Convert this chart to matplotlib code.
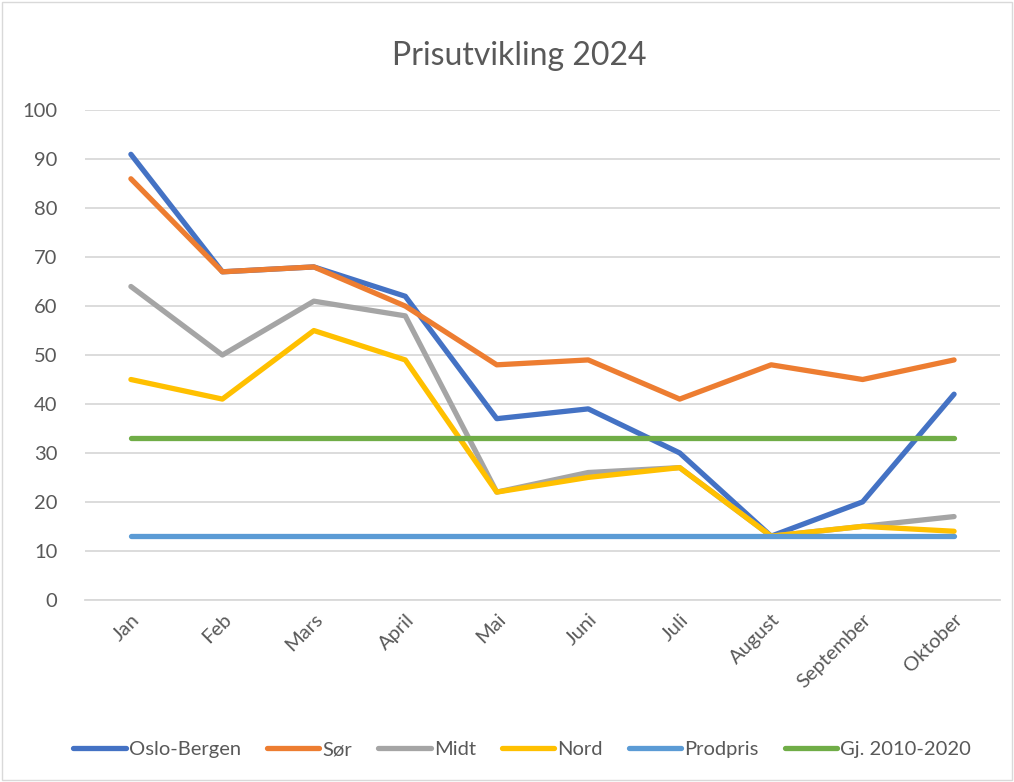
import matplotlib.pyplot as plt
from matplotlib.patches import Rectangle

plt.rcParams['font.family'] = ['Lato', 'DejaVu Sans']

months = ["Jan", "Feb", "Mars", "April", "Mai", "Juni", "Juli",
          "August", "September", "Oktober"]
oslo_bergen = [91, 67, 68, 62, 37, 39, 30, 13, 20, 42]
sor = [86, 67, 68, 60, 48, 49, 41, 48, 45, 49]
midt = [64, 50, 61, 58, 22, 26, 27, 13, 15, 17]
nord = [45, 41, 55, 49, 22, 25, 27, 13, 15, 14]
prodpris = [13] * 10
gj_2010_2020 = [33] * 10

series = [
    ("Oslo-Bergen", oslo_bergen, "#4472C4"),
    ("Sør", sor, "#ED7D31"),
    ("Midt", midt, "#A5A5A5"),
    ("Nord", nord, "#FFC000"),
    ("Prodpris", prodpris, "#5B9BD5"),
    ("Gj. 2010-2020", gj_2010_2020, "#70AD47"),
]

fig = plt.figure(figsize=(10.14, 7.82), dpi=100)
ax = fig.add_axes([0.084, 0.233, 0.902, 0.626])

x = range(len(months))
for name, vals, col in series:
    ax.plot(x, vals, color=col, lw=3.8, label=name, solid_capstyle='round')

ax.set_xlim(-0.5, len(months) - 0.5)
ax.set_ylim(0, 100)
ax.set_yticks(range(0, 101, 10))
ax.set_xticks(list(x))
ax.set_xticklabels(months, rotation=45, ha='right', rotation_mode='anchor')
ax.grid(axis='y', color='#D9D9D9', lw=1.3)
ax.set_axisbelow(True)
for s in ['top', 'right', 'left']:
    ax.spines[s].set_visible(False)
ax.spines['bottom'].set_color('#D9D9D9')
ax.spines['bottom'].set_linewidth(1.3)
ax.tick_params(length=0, labelsize=14.5, labelcolor='#595959')
ax.tick_params(axis='x', pad=8)
ax.tick_params(axis='y', pad=20)

fig.text(0.512, 0.929, "Prisutvikling 2024", ha='center', va='center',
         fontsize=23, color='#595959')

fig.legend(loc='center', bbox_to_anchor=(0.515, 0.041), ncol=6, frameon=False,
           fontsize=14.5, handlelength=2.6, columnspacing=1.3, handletextpad=0.15,
           labelcolor='#595959')

fig.patches.append(Rectangle((0.002, 0.002), 0.996, 0.996, transform=fig.transFigure,
                             fill=False, edgecolor='#D9D9D9', lw=1))

fig.savefig("out.png", dpi=100, facecolor='white')
